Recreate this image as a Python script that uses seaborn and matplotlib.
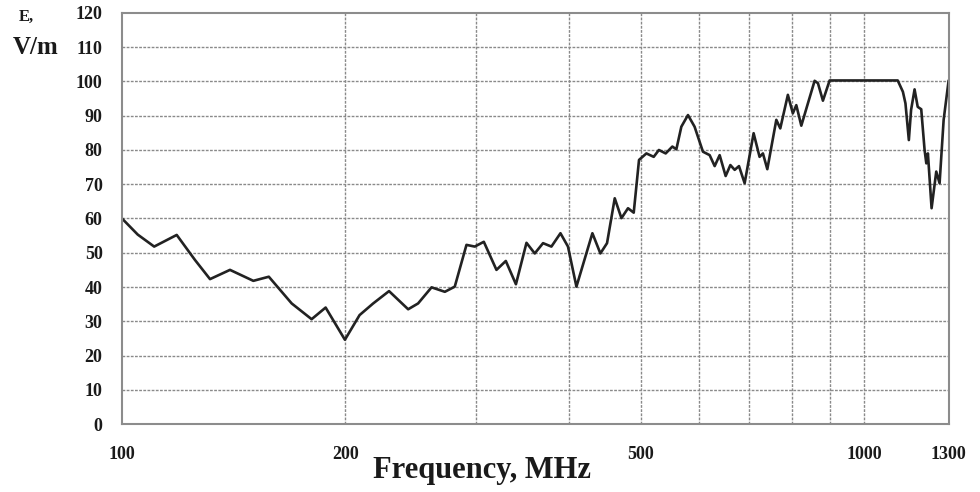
import numpy as np
import pandas as pd
import matplotlib
matplotlib.use('Agg')
import matplotlib.pyplot as plt
import seaborn as sns
from matplotlib.ticker import FixedLocator, NullFormatter

# Field strength vs frequency
freq_mhz = [100, 105, 110.5, 118.5, 125.4, 131.4, 139.8, 150.3, 157.7, 169.3,
            180.1, 188.1, 199.7, 209, 218, 229, 243, 250.6, 261.3, 272.3,
            280.8, 291.2, 298.8, 307.3, 319.6, 329, 339.5, 350.8, 359.9, 369.3,
            379, 389.8, 399, 409.6, 430.4, 441.2, 450.4, 461.3, 471, 480.7,
            489.3, 497.4, 508.9, 520.6, 529, 540.3, 551.6, 558.5, 567.2, 579,
            591, 606.5, 619.3, 629, 638.8, 650.8, 660.4, 669.3, 678.3, 690.3,
            709.8, 723, 730.6, 740.6, 761.6, 771, 789.4, 801.7, 810.3, 823,
            840, 857.7, 866.6, 880.1, 898.6, 1110, 1128, 1137, 1149, 1157,
            1169.6, 1181, 1194, 1206.5, 1213, 1219, 1233, 1251, 1264, 1280,
            1300]
field_vm = [60, 55.3, 51.8, 55.2, 47.9, 42.3, 45, 41.8, 43, 35.2,
            30.6, 34, 24.6, 31.8, 35.2, 38.8, 33.5, 35.2, 39.9, 38.6,
            40.1, 52.3, 51.8, 53.2, 45, 47.6, 40.8, 52.9, 49.8, 52.8,
            51.8, 55.7, 51.8, 40.1, 55.7, 49.8, 52.8, 65.9, 60.1, 63,
            61.7, 77.1, 79, 78, 80, 79, 81, 80.2, 86.8, 90.2,
            86.8, 79.5, 78.5, 75.3, 78.5, 72.4, 75.6, 74.2, 75.3, 70.3,
            84.9, 78, 79, 74.4, 88.8, 86.3, 96.1, 90.7, 93.1, 87.1,
            93.6, 100.2, 99.5, 94.4, 100.3, 100.3, 97, 93.6, 82.9, 91.7,
            97.7, 92.6, 91.9, 80, 76.1, 79, 63, 73.7, 70.3, 88.8,
            100.3]

x_labels = [100, 200, 500, 1000, 1300]
x_grid = [200, 300, 400, 500, 600, 700, 800, 900, 1000]
y_ticks = list(range(0, 121, 10))

df = pd.DataFrame({'freq': freq_mhz, 'E': field_vm})

sns.set_style('white')
plt.rcParams['font.family'] = ['Liberation Serif', 'DejaVu Serif']
plt.rcParams['font.weight'] = 'bold'

fig = plt.figure(figsize=(9.8, 4.92), dpi=100)
ax = fig.add_axes([0.1245, 0.1382, 0.8435, 0.8354])

sns.lineplot(data=df, x='freq', y='E', ax=ax, color='#222222', linewidth=1.9,
             estimator=None, sort=False, solid_joinstyle='round')

ax.set_xscale('log')
ax.set_xlim(100, 1300)
ax.set_ylim(0, 120)

ax.xaxis.set_major_locator(FixedLocator(x_labels))
ax.set_xticklabels([str(v) for v in x_labels])
ax.xaxis.set_minor_locator(FixedLocator(x_grid))
ax.xaxis.set_minor_formatter(NullFormatter())
ax.set_yticks(y_ticks)

ax.grid(False)
for v in x_grid:
    ax.axvline(v, color='#8a8a8a', linewidth=1.0, linestyle=(0, (2, 1)), zorder=0)
for v in y_ticks[1:-1]:
    ax.axhline(v, color='#8a8a8a', linewidth=1.0, linestyle=(0, (2, 1)), zorder=0)

ax.tick_params(axis='both', which='both', length=0, labelsize=13, colors='#1a1a1a')
ax.tick_params(axis='x', pad=16)
ax.tick_params(axis='y', pad=14)
for lab in ax.get_xticklabels() + ax.get_yticklabels():
    lab.set_fontweight('bold')

for sp in ax.spines.values():
    sp.set_color('#8c8c8c')
    sp.set_linewidth(1.5)

ax.set_xlabel('')
ax.set_ylabel('')
fig.text(0.492, 0.043, 'Frequency, MHz', ha='center', va='center',
         fontsize=22, fontweight='bold', color='#1a1a1a')
fig.text(0.027, 0.965, 'E,', ha='center', va='center',
         fontsize=12, fontweight='bold', color='#1a1a1a')
fig.text(0.036, 0.903, 'V/m', ha='center', va='center',
         fontsize=18, fontweight='bold', color='#1a1a1a')

fig.savefig('out.png', dpi=100)
